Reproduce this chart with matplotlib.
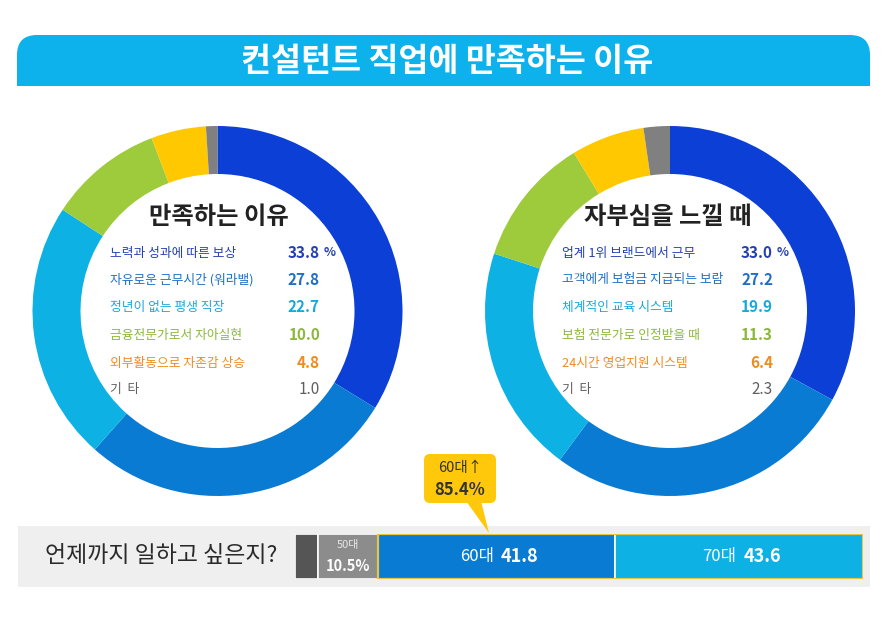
import numpy as np
import matplotlib.pyplot as plt
from matplotlib.patches import FancyBboxPatch, Rectangle, Polygon

plt.rcParams['font.family'] = ['Noto Sans CJK KR', 'DejaVu Sans']

# data
title = "컨설턴트 직업에 만족하는 이유"

left_title = "만족하는 이유"
left_labels = ["노력과 성과에 따른 보상", "자유로운 근무시간 (워라밸)", "정년이 없는 평생 직장",
               "금융전문가로서 자아실현", "외부활동으로 자존감 상승", "기  타"]
left_values = [33.8, 27.8, 22.7, 10.0, 4.8, 1.0]

right_title = "자부심을 느낄 때"
right_labels = ["업계 1위 브랜드에서 근무", "고객에게 보험금 지급되는 보람", "체계적인 교육 시스템",
                "보험 전문가로 인정받을 때", "24시간 영업지원 시스템", "기  타"]
right_values = [33.0, 27.2, 19.9, 11.3, 6.4, 2.3]

age_question = "언제까지 일하고 싶은지?"
age_groups = ["50대 미만", "50대", "60대", "70대"]
age_values = [4.1, 10.5, 41.8, 43.6]
callout_label = "60대↑"
callout_value = "85.4%"

ring_colors = ["#0b3fd6", "#0a7bd2", "#0db1e4", "#9dcb3c", "#ffc800", "#808080"]
text_colors = ["#2440b4", "#1e70c4", "#1aa8dc", "#8cb83c", "#f08c1e", "#606060"]
bar_colors = ["#555555", "#8c8c8c", "#0a7bd2", "#0db1e4"]

W, H = 894, 631
fig = plt.figure(figsize=(W / 100, H / 100), dpi=100)
fig.patch.set_facecolor("white")

# pixel-space background axes for decorations and text
bg = fig.add_axes([0, 0, 1, 1])
bg.set_xlim(0, W)
bg.set_ylim(H, 0)
bg.axis("off")

# title banner (rounded top corners only)
banner = "#0db1ec"
bg.add_patch(FancyBboxPatch((37, 55), 813, 11, boxstyle="round,pad=20", fc=banner, ec="none"))
bg.add_patch(Rectangle((17, 62), 853, 24, fc=banner, ec="none"))
bg.text(W / 2, 61, title, color="white", fontsize=23.5, fontweight="bold", ha="center", va="center")


def donut(cx, cy, values, heading, labels, lab_x, val_x, head_x):
    r_out, r_in = 185, 137
    ax = fig.add_axes([(cx - r_out) / W, 1 - (cy + r_out) / H, 2 * r_out / W, 2 * r_out / H])
    ax.pie(values, colors=ring_colors, startangle=90, counterclock=False, radius=1,
           wedgeprops=dict(width=1 - r_in / r_out, edgecolor="none"))
    ax.set_xlim(-1, 1)
    ax.set_ylim(-1, 1)
    ax.axis("off")
    bg.text(head_x, 217, heading, fontsize=17.5, fontweight="bold", color="#222222",
            ha="center", va="center")
    rows_y = [253, 280, 307, 335, 363, 390]
    for i, (lab, v) in enumerate(zip(labels, values)):
        c = text_colors[i]
        bg.text(lab_x, rows_y[i], lab, fontsize=9.2, color=c, ha="left", va="center",
                fontweight="medium")
        bg.text(val_x, rows_y[i], f"{v:.1f}", fontsize=11, color=c, ha="right", va="center",
                fontweight="bold" if i < 5 else "normal")
        if i == 0:
            bg.text(val_x + 4, rows_y[i], "%", fontsize=9, color=c, ha="left", va="center",
                    fontweight="bold")


donut(217.5, 311, left_values, left_title, left_labels, 110, 320, 219)
donut(670, 311, right_values, right_title, right_labels, 562, 773, 668)

# bottom band
bg.add_patch(Rectangle((18, 526), 852, 61, fc="#efefef", ec="none"))
bg.text(161, 556, age_question, fontsize=16.5, color="#2a2a2a", ha="center", va="center",
        fontweight="medium")

# stacked bar
bx0, bx1, by0, by1 = 295, 863, 534, 579
bar_ax = fig.add_axes([bx0 / W, 1 - by1 / H, (bx1 - bx0) / W, (by1 - by0) / H])
lefts = np.concatenate([[0], np.cumsum(age_values)[:-1]])
bar_ax.barh(0, age_values, left=lefts, height=1, color=bar_colors, edgecolor="white", linewidth=1.2)
bar_ax.barh(0, sum(age_values[2:]), left=lefts[2], height=1, fill=False,
            edgecolor="#e6c640", linewidth=1.6)
bar_ax.set_xlim(0, sum(age_values))
bar_ax.set_ylim(-0.5, 0.5)
bar_ax.axis("off")

c1 = lefts[1] + age_values[1] / 2
bar_ax.annotate("50대", (c1, 0), xytext=(0, 8), textcoords="offset points", fontsize=8,
                color="#e8e8e8", ha="center", va="center")
bar_ax.annotate(f"{age_values[1]}%", (c1, 0), xytext=(0, -7), textcoords="offset points",
                fontsize=10.5, color="white", fontweight="bold", ha="center", va="center")
for i in (2, 3):
    c = lefts[i] + age_values[i] / 2
    bar_ax.annotate(age_groups[i], (c, 0), xytext=(-2, 0), textcoords="offset points",
                    fontsize=12, color="white", ha="right", va="center")
    bar_ax.annotate(f"{age_values[i]}", (c, 0), xytext=(3, 0), textcoords="offset points",
                    fontsize=13, color="white", fontweight="bold", ha="left", va="center")

# callout
gold = "#ffc80a"
bg.add_patch(FancyBboxPatch((430, 460), 60, 37, boxstyle="round,pad=6", fc=gold, ec="none"))
bg.add_patch(Polygon([(466, 501), (481, 501), (489, 533)], closed=True, fc=gold, ec="none"))
bg.text(460, 468, callout_label, fontsize=10.5, color="#333333", ha="center", va="center")
bg.text(460, 490, callout_value, fontsize=12, color="#333333", fontweight="bold",
        ha="center", va="center")

fig.savefig("out.png", dpi=100, facecolor="white")
